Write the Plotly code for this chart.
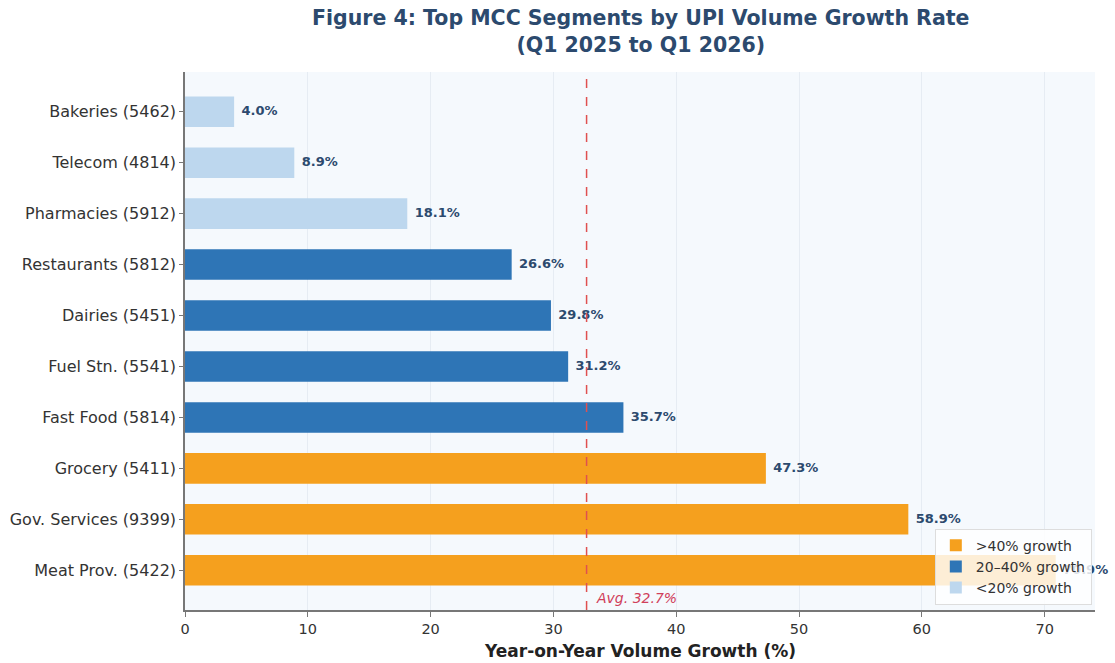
import plotly.graph_objects as go

categories = ["Bakeries (5462)", "Telecom (4814)", "Pharmacies (5912)", "Restaurants (5812)",
              "Dairies (5451)", "Fuel Stn. (5541)", "Fast Food (5814)", "Grocery (5411)",
              "Gov. Services (9399)", "Meat Prov. (5422)"]
growth = [4.0, 8.9, 18.1, 26.6, 29.8, 31.2, 35.7, 47.3, 58.9, 70.9]
avg_growth = 32.7
x_ticks = [0, 10, 20, 30, 40, 50, 60, 70]
label_offset = 0.6

groups = [
    (">40% growth", "#F5A01E", lambda v: v > 40),
    ("20\u201340% growth", "#2E75B6", lambda v: 20 <= v <= 40),
    ("<20% growth", "#BDD7EE", lambda v: v < 20),
]

fig = go.Figure()
for name, color, cond in groups:
    ys = [c for c, v in zip(categories, growth) if cond(v)]
    xs = [v for v in growth if cond(v)]
    fig.add_trace(go.Bar(x=xs, y=ys, orientation="h", name=name, width=0.6,
                         marker=dict(color=color, line=dict(width=0))))

# value labels as a text trace (drawn beneath the legend)
fig.add_trace(go.Scatter(
    x=[v + label_offset for v in growth], y=categories, mode="text",
    text=[f"<b>{v:.1f}%</b>" for v in growth], textposition="middle right",
    textfont=dict(family="DejaVu Sans", size=13, color="#2C4A6E"),
    showlegend=False, cliponaxis=False, hoverinfo="skip"))

PH = 538  # plot height in px
annotations = [
    dict(x=avg_growth + 0.6, y=0.004, xref="x", yref="paper",
         text="<i>Avg. 32.7%</i>", showarrow=False, xanchor="left", yanchor="bottom",
         font=dict(family="DejaVu Sans", size=14, color="#D0405A")),
    dict(x=0.5, y=1 + 41 / PH, xref="paper", yref="paper", showarrow=False,
         text="<b>Figure 4: Top MCC Segments by UPI Volume Growth Rate<br>(Q1 2025 to Q1 2026)</b>",
         xanchor="center", yanchor="middle",
         font=dict(family="DejaVu Sans", size=20.5, color="#2C4A6E")),
    dict(x=0.5, y=-41 / PH, xref="paper", yref="paper", showarrow=False,
         text="<b>Year-on-Year Volume Growth (%)</b>", xanchor="center", yanchor="middle",
         font=dict(family="DejaVu Sans", size=17, color="#222222")),
]

fig.add_shape(type="line", x0=avg_growth, x1=avg_growth, y0=0, y1=1, xref="x", yref="paper",
              line=dict(color="#E05050", width=1.5, dash="dash"))

fig.update_layout(
    width=1115, height=663,
    margin=dict(l=185, r=20, t=72, b=53),
    paper_bgcolor="white", plot_bgcolor="#F5F9FD",
    barmode="overlay",
    font=dict(family="DejaVu Sans", size=14, color="#333333"),
    legend=dict(x=0.9965, xanchor="right", y=0.01, yanchor="bottom",
                bgcolor="rgba(255,255,255,0.82)", bordercolor="#DDDDDD", borderwidth=1,
                font=dict(family="DejaVu Sans", size=14, color="#333333"),
                traceorder="normal", itemwidth=30),
    annotations=annotations,
)
fig.update_xaxes(range=[0, 74.1], tickvals=x_ticks, showgrid=True, gridcolor="#E6ECF3", gridwidth=1,
                 zeroline=False, showline=True, linecolor="#777777", linewidth=1.5,
                 ticks="outside", ticklen=5, tickcolor="#777777", automargin=False,
                 tickfont=dict(size=14.5, color="#333333"))
fig.update_yaxes(type="category", categoryorder="array", categoryarray=categories,
                 range=[9.78, -0.78], showgrid=False, zeroline=False, showline=True,
                 linecolor="#777777", linewidth=1.5, ticks="outside", ticklen=4, tickcolor="#777777",
                 automargin=False, tickfont=dict(size=16, color="#333333"))

fig.write_html("out.html")
